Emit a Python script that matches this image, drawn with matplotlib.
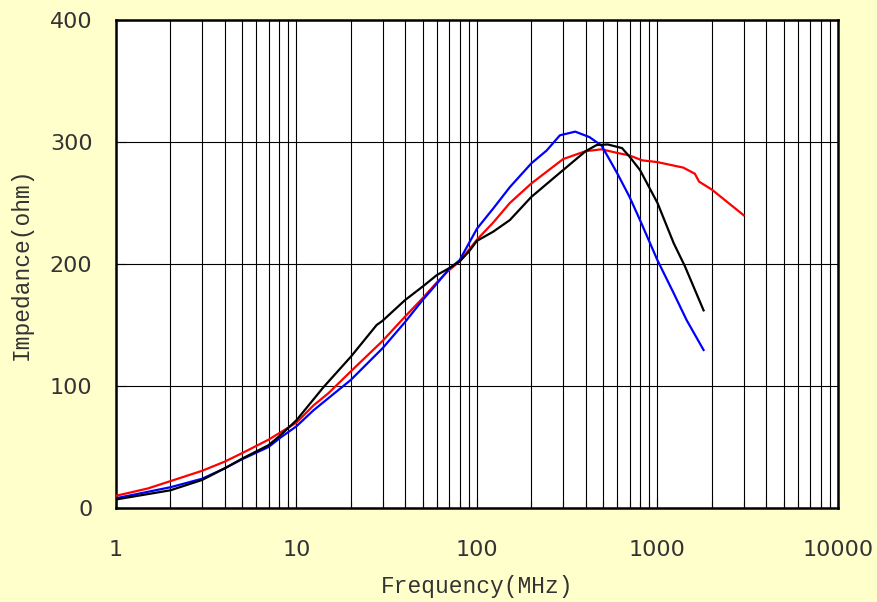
import matplotlib.pyplot as plt
from matplotlib.ticker import LogLocator, FixedLocator, NullFormatter

# impedance curves
red_freq = [1, 1.5, 2, 3, 4, 5, 7, 10, 12.4, 15, 20, 30, 40, 50, 60, 70, 80,
            100, 123, 152, 200, 300, 400, 490, 600, 700, 820, 1000, 1390,
            1610, 1700, 2000, 3000]
red_z = [10, 16, 22, 30.5, 38, 45, 56, 70, 84, 94, 112, 137, 157, 172, 185,
         195, 202, 220, 234, 250, 266, 286, 292.5, 294, 291, 289, 285, 283.5,
         279, 274, 267.5, 261, 240]

blue_freq = [1, 2, 3, 4, 5, 7, 8.2, 10, 12.4, 20, 30, 40, 50, 60, 70, 80, 100,
             123, 152, 200, 243, 288, 350, 420, 490, 545, 600, 700, 800, 1000,
             1230, 1450, 1800]
blue_z = [8, 17, 24, 32.5, 40, 50, 58, 67, 80, 105, 131, 152.5, 170.5, 184,
          196, 203, 229, 245.5, 263, 282.5, 293, 305.5, 308.5, 304, 297, 285,
          274, 255, 236, 203, 176, 154, 129.5]

black_freq = [1, 2, 3, 4, 5, 7, 8.2, 10, 14.1, 20, 27.8, 30, 40, 50, 60, 70,
              80, 90, 100, 123, 152, 200, 300, 400, 460, 530, 636, 700, 800,
              1000, 1230, 1420, 1800]
black_z = [7, 14.5, 23, 32.5, 40.5, 51.5, 60, 72, 99, 124, 150, 153.5, 170.5,
           181.5, 191, 196.5, 202, 210, 219, 226.5, 236, 255, 277, 292.5,
           297.5, 298, 295, 288, 277, 250, 217, 198, 162]

x_ticks = [1, 10, 100, 1000, 10000]
x_tick_labels = ["1", "10", "100", "1000", "10000"]
y_ticks = [0, 100, 200, 300, 400]

bg = "#FFFFCC"
text_color = "#333333"

fig = plt.figure(figsize=(8.78, 6.02), dpi=100, facecolor=bg)
ax = fig.add_axes([116 / 878, 94 / 602, 722 / 878, 488 / 602])
ax.set_facecolor("white")

ax.plot(red_freq, red_z, color="#FF0000", linewidth=1.6, zorder=3)
ax.plot(blue_freq, blue_z, color="#0000FF", linewidth=1.6, zorder=3)
ax.plot(black_freq, black_z, color="black", linewidth=1.6, zorder=4)

ax.set_xscale("log")
ax.set_xlim(1, 10000)
ax.set_ylim(0, 400)

ax.xaxis.set_major_locator(FixedLocator(x_ticks))
ax.set_xticklabels(x_tick_labels)
ax.xaxis.set_minor_locator(LogLocator(base=10, subs=range(2, 10), numticks=20))
ax.xaxis.set_minor_formatter(NullFormatter())
ax.set_yticks(y_ticks)

ax.grid(True, which="both", axis="x", color="black", linewidth=0.8)
ax.grid(True, which="major", axis="y", color="black", linewidth=0.8)
ax.set_axisbelow(True)

ax.tick_params(axis="both", which="major", direction="in", length=7,
               width=0.8, labelsize=16, labelcolor=text_color)
ax.tick_params(axis="y", pad=17)
ax.tick_params(axis="x", pad=23)
ax.tick_params(axis="x", which="minor", direction="in", length=5, width=0.8)

for s in ax.spines.values():
    s.set_linewidth(1.8)
    s.set_color("black")

ax.set_xlabel("Frequency(MHz)", fontsize=16.5, family="Liberation Mono",
              color=text_color, labelpad=11)
ax.set_ylabel("Impedance(ohm)", fontsize=16.5, family="Liberation Mono",
              color=text_color, labelpad=12)

fig.savefig("out.png", dpi=100, facecolor=bg)
